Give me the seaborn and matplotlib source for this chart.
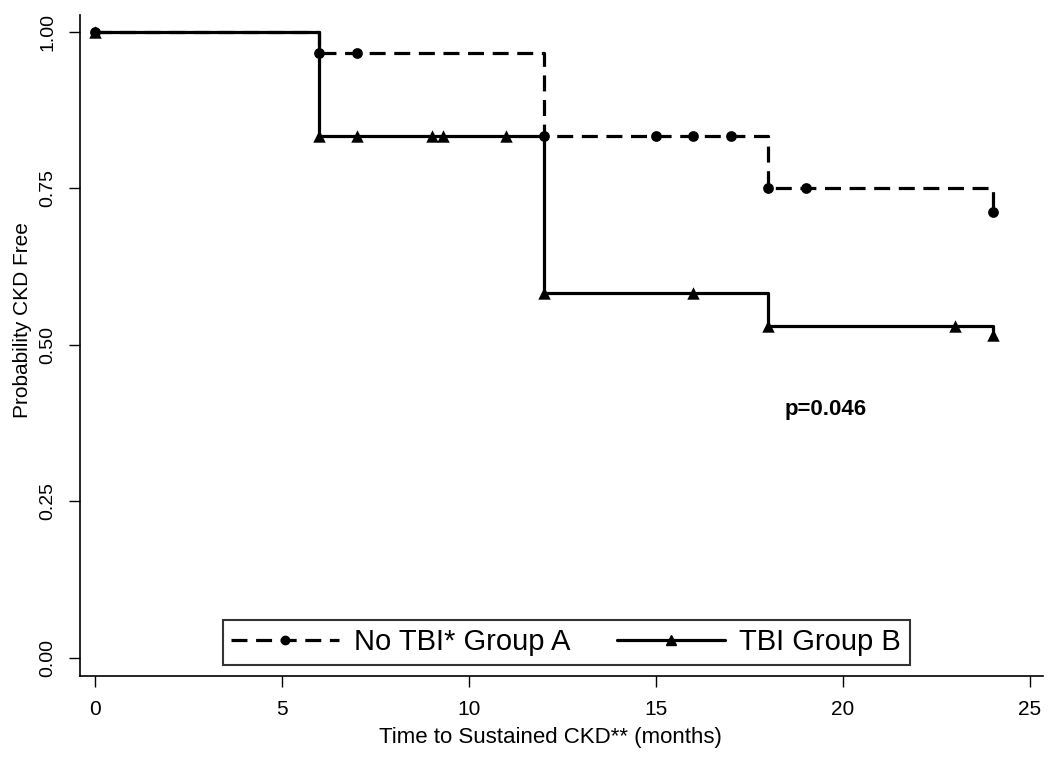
import numpy as np
import matplotlib.pyplot as plt
import pandas as pd
import seaborn as sns
from matplotlib.lines import Line2D

# Kaplan-Meier step curves (value after each step)
time_a = [0, 6, 12, 18, 24]
surv_a = [1.0, 0.967, 0.833, 0.75, 0.712]
time_b = [0, 6, 12, 18, 24]
surv_b = [1.0, 0.833, 0.583, 0.53, 0.516]

# marker (event / censor) times
marks_a = [0, 6, 7, 12, 15, 16, 17, 18, 19, 24]
marks_b = [0, 6, 7, 9, 9.3, 11, 12, 16, 18, 23, 24]

label_a = "No TBI* Group A"
label_b = "TBI Group B"


def step_value(times, surv, t):
    idx = np.searchsorted(times, t, side='right') - 1
    return np.array(surv)[idx]


curve_a = pd.DataFrame({'time': time_a, 'surv': surv_a})
curve_b = pd.DataFrame({'time': time_b, 'surv': surv_b})
pts_a = pd.DataFrame({'time': marks_a, 'surv': step_value(time_a, surv_a, marks_a)})
pts_b = pd.DataFrame({'time': marks_b, 'surv': step_value(time_b, surv_b, marks_b)})

sns.set_style('ticks')
plt.rcParams['font.family'] = ['Liberation Sans', 'DejaVu Sans']
plt.rcParams['text.color'] = 'black'
plt.rcParams['axes.labelcolor'] = 'black'

fig = plt.figure(figsize=(10.5, 7.6), dpi=100)
ax = fig.add_axes([80 / 1050, 1 - 676 / 760, (1043 - 80) / 1050, (676 - 15) / 760])

lw = 2.3
dash = (0, (5, 2.7))
sns.lineplot(data=curve_a, x='time', y='surv', ax=ax, color='black', lw=lw,
             drawstyle='steps-post', estimator=None, sort=False, linestyle=dash)
sns.lineplot(data=curve_b, x='time', y='surv', ax=ax, color='black', lw=lw,
             drawstyle='steps-post', estimator=None, sort=False)
sns.scatterplot(data=pts_a, x='time', y='surv', ax=ax, color='black', marker='o',
                s=60, linewidth=0, zorder=3)
sns.scatterplot(data=pts_b, x='time', y='surv', ax=ax, color='black', marker='^',
                s=80, linewidth=0, zorder=4)

ax.set_xlim(-0.4, 25.35)
ax.set_ylim(-0.029, 1.027)
ax.set_xticks([0, 5, 10, 15, 20, 25])
ax.set_yticks([0, 0.25, 0.5, 0.75, 1.0])
ax.set_yticklabels(['0.00', '0.25', '0.50', '0.75', '1.00'], rotation=90, va='center')
ax.tick_params(axis='both', length=8, width=1, color='black', labelcolor='black', pad=9)
ax.tick_params(axis='x', labelsize=15)
ax.tick_params(axis='y', labelsize=14)
sns.despine(ax=ax)
for s in ['left', 'bottom']:
    ax.spines[s].set_linewidth(1.2)
    ax.spines[s].set_color('black')

ax.set_xlabel('Time to Sustained CKD** (months)', fontsize=16)
ax.xaxis.set_label_coords(0.488, -0.077)
ax.set_ylabel('Probability CKD Free', fontsize=15)
ax.yaxis.set_label_coords(-0.05, 0.539)

ax.text(18.45, 0.396, 'p=0.046', fontsize=16, fontweight='bold', va='center')

handles = [
    Line2D([0], [0], color='black', lw=lw, linestyle=dash, marker='o', markersize=6),
    Line2D([0], [0], color='black', lw=lw, marker='^', markersize=7),
]
leg = ax.legend(handles, [label_a, label_b], loc='lower center', ncol=2,
                bbox_to_anchor=(0.505, 0.0165), borderaxespad=0, fontsize=21,
                frameon=True, fancybox=False, edgecolor='black', handlelength=3.7,
                columnspacing=1.6, borderpad=0.3, handletextpad=0.5)
leg.get_frame().set_linewidth(1.5)

fig.savefig('out.png', dpi=100)
